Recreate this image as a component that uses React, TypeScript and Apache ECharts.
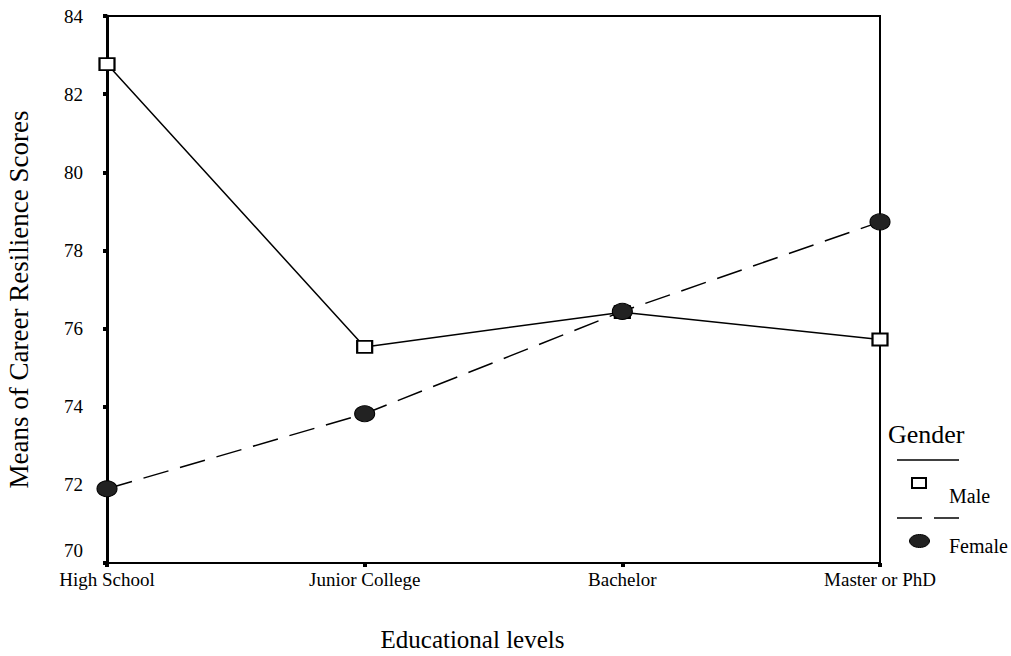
import React, { useEffect, useRef } from "react";
import * as echarts from "echarts";

const categories = ["High School", "Junior College", "Bachelor", "Master or PhD"];
const maleValues = [82.77, 75.53, 76.42, 75.72];
const femaleValues = [71.9, 73.82, 76.44, 78.73];
const yTicks = { min: 70, max: 84, interval: 2 };
const xAxisTitle = "Educational levels";
const yAxisTitle = "Means of Career Resilience Scores";
const legendTitle = "Gender";
const seriesNames = ["Male", "Female"];

const FONT = "'Liberation Serif', 'Times New Roman', serif";

const legendText = (text: string, left: number, top: number, size: number) => ({
  text,
  left,
  top,
  padding: 0,
  textStyle: { fontFamily: FONT, fontSize: size, fontWeight: "normal", color: "#000" },
});

export default function App() {
  const ref = useRef<HTMLDivElement>(null);
  useEffect(() => {
    if (!ref.current) return;
    const chart = echarts.init(ref.current, undefined, { renderer: "svg" });
    chart.setOption({
      animation: false,
      backgroundColor: "#ffffff",
      textStyle: { fontFamily: FONT },
      title: [
        legendText(legendTitle, 888, 421, 26),
        legendText(seriesNames[0], 949, 486, 20),
        legendText(seriesNames[1], 949, 536, 20),
      ],
      grid: {
        left: 107,
        right: 131,
        top: 16,
        bottom: 93,
        containLabel: false,
        outerBoundsMode: "none",
        show: true,
        borderColor: "#000",
        borderWidth: 2,
        backgroundColor: "transparent",
      },
      xAxis: {
        type: "category",
        data: categories,
        boundaryGap: false,
        name: xAxisTitle,
        nameLocation: "middle",
        nameGap: 64,
        nameTextStyle: { fontFamily: FONT, fontSize: 25, color: "#000", padding: [0, 42, 0, 0] },
        axisLine: { show: true, lineStyle: { color: "#000", width: 2 } },
        axisTick: { show: true, length: 4, lineStyle: { color: "#000", width: 4 } },
        axisLabel: { fontFamily: FONT, fontSize: 19, color: "#000", margin: 7 },
        splitLine: { show: false },
      },
      yAxis: {
        type: "value",
        min: yTicks.min,
        max: yTicks.max,
        interval: yTicks.interval,
        name: yAxisTitle,
        nameLocation: "middle",
        nameGap: 75,
        nameRotate: 90,
        nameTextStyle: { fontFamily: FONT, fontSize: 27, color: "#000", padding: [0, 20, 0, 0] },
        axisLine: { show: true, lineStyle: { color: "#000", width: 3 } },
        axisTick: { show: true, length: 4, lineStyle: { color: "#000", width: 4 } },
        axisLabel: {
          fontFamily: FONT,
          fontSize: 19,
          color: "#000",
          margin: 24,
          formatter: (v: number) => (v === yTicks.min ? "{low|" + v + "}" : String(v)),
          rich: {
            low: { fontFamily: FONT, fontSize: 19, color: "#000", padding: [0, 0, 26, 0] },
          },
        },
        splitLine: { show: false },
      },
      series: [
        {
          name: seriesNames[0],
          type: "line",
          data: maleValues,
          symbol: "rect",
          symbolSize: [15, 12],
          showAllSymbol: true,
          lineStyle: { color: "#000", width: 1.5 },
          itemStyle: { color: "#fff", borderColor: "#000", borderWidth: 2 },
          z: 3,
        },
        {
          name: seriesNames[1],
          type: "line",
          data: femaleValues,
          symbol: "circle",
          symbolSize: [20, 16],
          showAllSymbol: true,
          lineStyle: { color: "#000", width: 1.5, type: [26, 12] },
          itemStyle: { color: "#222", borderColor: "#000", borderWidth: 1 },
          z: 4,
        },
      ],
      graphic: [
        {
          type: "line",
          shape: { x1: 897, y1: 460, x2: 959, y2: 460 },
          style: { stroke: "#000", lineWidth: 1.5 },
        },
        {
          type: "rect",
          shape: { x: 912, y: 478, width: 14, height: 10 },
          style: { fill: "#fff", stroke: "#000", lineWidth: 2 },
        },
        {
          type: "line",
          shape: { x1: 897, y1: 518, x2: 922, y2: 518 },
          style: { stroke: "#000", lineWidth: 1.5 },
        },
        {
          type: "line",
          shape: { x1: 934, y1: 518, x2: 959, y2: 518 },
          style: { stroke: "#000", lineWidth: 1.5 },
        },
        {
          type: "ellipse",
          shape: { cx: 919.5, cy: 541, rx: 10, ry: 6.5 },
          style: { fill: "#222", stroke: "#000", lineWidth: 1 },
        },
      ],
    });
    return () => chart.dispose();
  }, []);
  return (
    <div
      ref={ref}
      style={{ position: "fixed", left: 0, top: 0, width: 1011, height: 656, background: "#fff" }}
    />
  );
}
